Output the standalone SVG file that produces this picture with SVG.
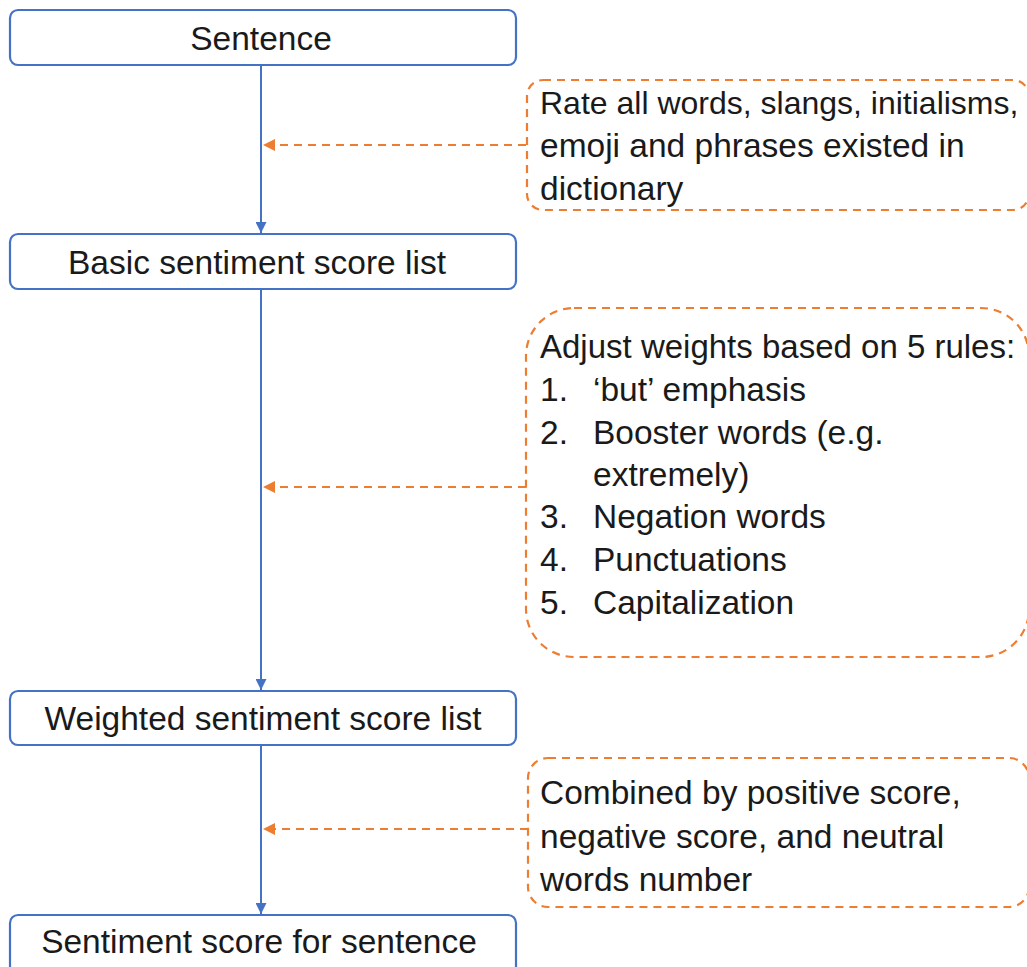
<svg xmlns="http://www.w3.org/2000/svg" width="1027" height="967" viewBox="0 0 1027 967">
<style>
.node{fill:#fff;stroke:#4472C4;stroke-width:2.2}
.note{fill:none;stroke:#ED7D31;stroke-width:2.2;stroke-dasharray:8 6}
.flow{stroke:#4472C4;stroke-width:2;fill:none}
.dash{stroke:#ED7D31;stroke-width:2;stroke-dasharray:8 6;fill:none}
text{font-family:"Liberation Sans",Arial,sans-serif;font-size:33.5px;fill:#1a1a1a}
.c{text-anchor:middle}
</style>
<defs>
<marker id="ab" viewBox="0 0 10 10" refX="10" refY="5" markerWidth="5.5" markerHeight="5.5" orient="auto"><path d="M0,0L10,5L0,10z" fill="#4472C4"/></marker>
<marker id="ao" viewBox="0 0 10 10" refX="10" refY="5" markerWidth="6" markerHeight="6" orient="auto"><path d="M0,0L10,5L0,10z" fill="#ED7D31"/></marker>
</defs>
<g id="connectors">
<line class="flow" x1="261" y1="66" x2="261" y2="233" marker-end="url(#ab)"/>
<line class="flow" x1="261" y1="290" x2="261" y2="690" marker-end="url(#ab)"/>
<line class="flow" x1="261" y1="746" x2="261" y2="914" marker-end="url(#ab)"/>
<line class="dash" x1="526" y1="145" x2="263" y2="145" marker-end="url(#ao)"/>
<line class="dash" x1="526" y1="487" x2="263" y2="487" marker-end="url(#ao)"/>
<line class="dash" x1="528" y1="829" x2="263" y2="829" marker-end="url(#ao)"/>
</g>
<g id="n1"><rect class="node" x="10" y="10" width="506" height="55" rx="8"/><text class="c" x="261" y="50">Sentence</text></g>
<g id="n2"><rect class="node" x="10" y="234" width="506" height="55" rx="8"/><text class="c" x="257" y="274">Basic sentiment score list</text></g>
<g id="n3"><rect class="node" x="10" y="691" width="506" height="54" rx="8"/><text class="c" x="263" y="730">Weighted sentiment score list</text></g>
<g id="n4"><rect class="node" x="10" y="915" width="506" height="70" rx="8"/><text class="c" x="259" y="953">Sentiment score for sentence</text></g>
<g id="noteA"><rect class="note" x="527" y="80" width="502" height="130" rx="16"/>
<text x="540" y="114" style="font-size:32px">Rate all words, slangs, initialisms,</text>
<text x="540" y="157">emoji and phrases existed in</text>
<text x="540" y="200">dictionary</text></g>
<g id="noteB"><rect class="note" x="526" y="308" width="503" height="349" rx="48"/>
<text x="540" y="358" style="font-size:33px">Adjust weights based on 5 rules:</text>
<text x="540" y="401">1.</text><text x="593" y="401">‘but’ emphasis</text>
<text x="540" y="444">2.</text><text x="593" y="444">Booster words (e.g.</text>
<text x="593" y="486">extremely)</text>
<text x="540" y="528">3.</text><text x="593" y="528">Negation words</text>
<text x="540" y="571">4.</text><text x="593" y="571">Punctuations</text>
<text x="540" y="614">5.</text><text x="593" y="614">Capitalization</text></g>
<g id="noteC"><rect class="note" x="528" y="758" width="501" height="149" rx="20"/>
<text x="540" y="804">Combined by positive score,</text>
<text x="540" y="848">negative score, and neutral</text>
<text x="540" y="891">words number</text></g>
</svg>
